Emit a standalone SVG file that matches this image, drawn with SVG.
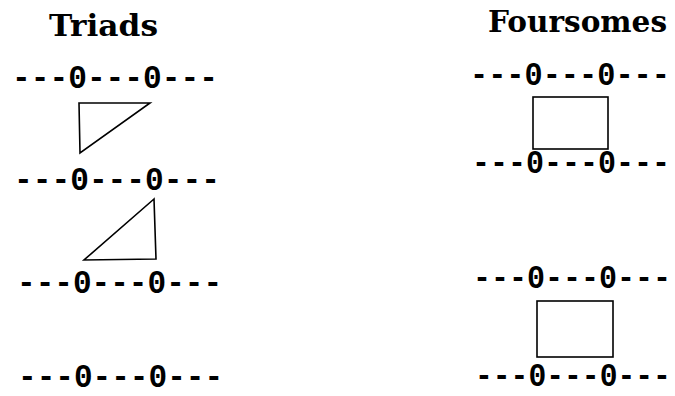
<svg xmlns="http://www.w3.org/2000/svg" width="675" height="396" viewBox="0 0 675 396">
<style>
.title{font-family:"DejaVu Serif","Liberation Serif",serif;font-weight:bold;font-size:30px;fill:#000}
.row{font-family:"Liberation Mono","Courier New",monospace;font-weight:bold;font-size:34px;fill:#000}
.ln{fill:none;stroke:#000;stroke-width:1.6;stroke-linejoin:miter}
</style>
<rect width="675" height="396" fill="#fff"/>
<g id="triads-title"><text class="title" x="49" y="36" textLength="109" lengthAdjust="spacingAndGlyphs">Triads</text></g>
<g id="foursomes-title"><text class="title" x="488" y="32" textLength="179" lengthAdjust="spacingAndGlyphs">Foursomes</text></g>
<g id="triad-row-1" transform="translate(12,88) scale(0.918,1)"><text class="row" x="0" y="0">---0---0---</text></g>
<g id="triad-row-2" transform="translate(14,190) scale(0.918,1)"><text class="row" x="0" y="0">---0---0---</text></g>
<g id="triad-row-3" transform="translate(17,293) scale(0.914,1)"><text class="row" x="0" y="0">---0---0---</text></g>
<g id="triad-row-4" transform="translate(18,387) scale(0.914,1)"><text class="row" x="0" y="0">---0---0---</text></g>
<g id="foursome-row-1" transform="translate(470,85) scale(0.891,1)"><text class="row" x="0" y="0">---0---0---</text></g>
<g id="foursome-row-2" transform="translate(472,173) scale(0.882,1)"><text class="row" x="0" y="0">---0---0---</text></g>
<g id="foursome-row-3" transform="translate(473,288) scale(0.882,1)"><text class="row" x="0" y="0">---0---0---</text></g>
<g id="foursome-row-4" transform="translate(475,386) scale(0.873,1)"><text class="row" x="0" y="0">---0---0---</text></g>
<g id="connectors">
<polygon class="ln" points="79,103 150,103 80,153"/>
<polygon class="ln" points="154,199 84,260 156,259"/>
<rect class="ln" x="533" y="97" width="75" height="52"/>
<rect class="ln" x="537" y="301" width="76" height="56"/>
</g>
</svg>
